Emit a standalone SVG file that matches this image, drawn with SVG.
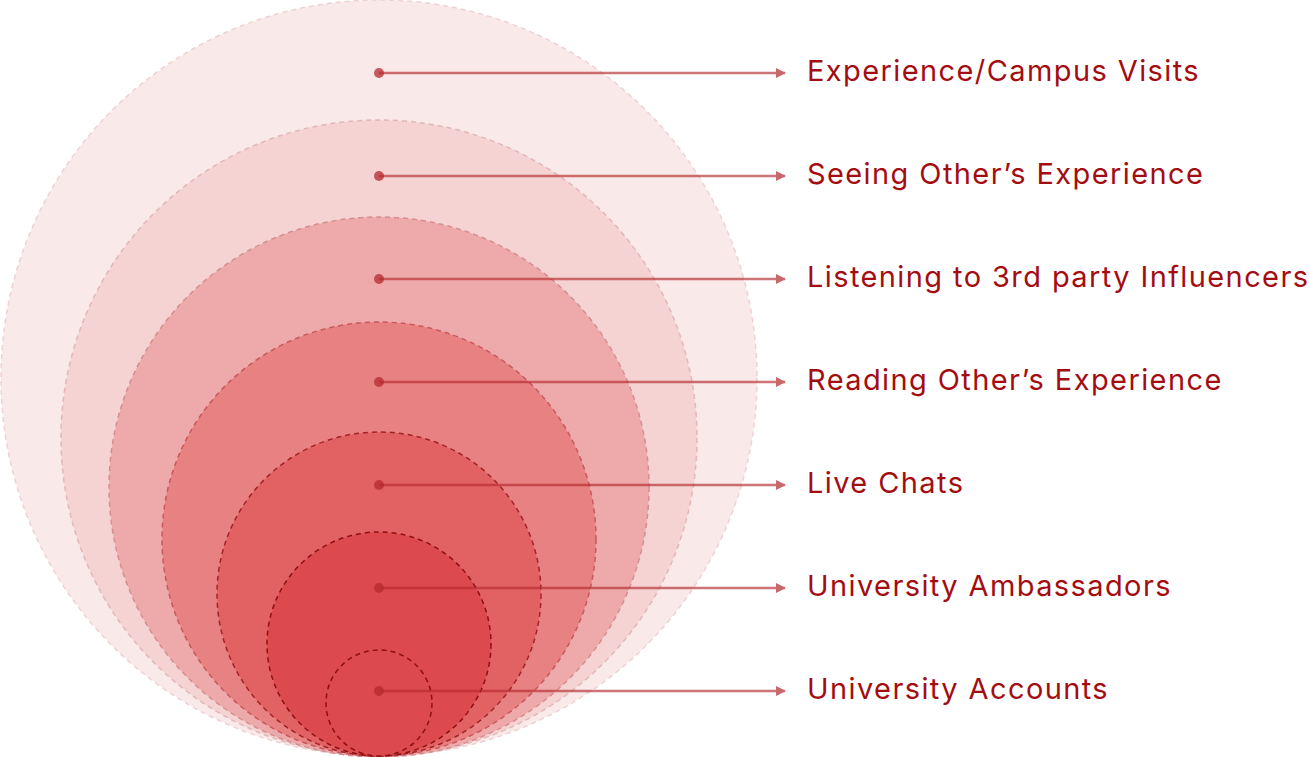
<svg xmlns="http://www.w3.org/2000/svg" width="1309" height="757" viewBox="0 0 1309 757">
<defs>
<style>
.c{stroke-dasharray:5 4;stroke-width:1.5}
.lbl{font-family:Inter,"Liberation Sans",sans-serif;font-size:29px;letter-spacing:1.4px;fill:#a30d12}
.ln{stroke:#b52a2e;stroke-opacity:0.65;stroke-width:2.5;fill:none}
.dot{fill:#b52a2e;fill-opacity:0.75}
</style>
<marker id="ah" viewBox="0 0 10 10" refX="9" refY="5" markerWidth="4" markerHeight="4" orient="auto" markerUnits="strokeWidth">
<path d="M0,0 L10,5 L0,10 Z" fill="#c9686b"/>
</marker>
</defs>
<rect width="1309" height="757" fill="#ffffff"/>
<g id="node1"><circle cx="379" cy="378" r="378" fill="#f9e9e9" stroke="#eed2d3" class="c"/></g>
<g id="node2"><circle cx="379" cy="438" r="318" fill="#f5d3d3" stroke="#e2b7b8" class="c"/></g>
<g id="node3"><circle cx="379" cy="487" r="270" fill="#eeaaab" stroke="#d68d8f" class="c"/></g>
<g id="node4"><circle cx="379" cy="539" r="217" fill="#e88182" stroke="#c8585b" class="c"/></g>
<g id="node5"><circle cx="379" cy="594" r="162" fill="#e26264" stroke="#a32327" class="c"/></g>
<g id="node6"><circle cx="379" cy="644" r="112" fill="#dd4a4d" stroke="#8e0f14" class="c"/></g>
<g id="node7"><circle cx="379" cy="703" r="53" fill="#dd4a4d" stroke="#8e0f14" class="c"/></g>
<g id="connectors">
<circle class="dot" cx="379" cy="73" r="5"/><line class="ln" x1="379" y1="73" x2="785" y2="73" marker-end="url(#ah)"/>
<circle class="dot" cx="379" cy="176" r="5"/><line class="ln" x1="379" y1="176" x2="785" y2="176" marker-end="url(#ah)"/>
<circle class="dot" cx="379" cy="279" r="5"/><line class="ln" x1="379" y1="279" x2="785" y2="279" marker-end="url(#ah)"/>
<circle class="dot" cx="379" cy="382" r="5"/><line class="ln" x1="379" y1="382" x2="785" y2="382" marker-end="url(#ah)"/>
<circle class="dot" cx="379" cy="485" r="5"/><line class="ln" x1="379" y1="485" x2="785" y2="485" marker-end="url(#ah)"/>
<circle class="dot" cx="379" cy="588" r="5"/><line class="ln" x1="379" y1="588" x2="785" y2="588" marker-end="url(#ah)"/>
<circle class="dot" cx="379" cy="691" r="5"/><line class="ln" x1="379" y1="691" x2="785" y2="691" marker-end="url(#ah)"/>
</g>
<g id="labels">
<text class="lbl" x="807" y="81">Experience/Campus Visits</text>
<text class="lbl" x="807" y="184">Seeing Other’s Experience</text>
<text class="lbl" x="807" y="287">Listening to 3rd party Influencers</text>
<text class="lbl" x="807" y="390">Reading Other’s Experience</text>
<text class="lbl" x="807" y="493">Live Chats</text>
<text class="lbl" x="807" y="596">University Ambassadors</text>
<text class="lbl" x="807" y="699">University Accounts</text>
</g>
</svg>
